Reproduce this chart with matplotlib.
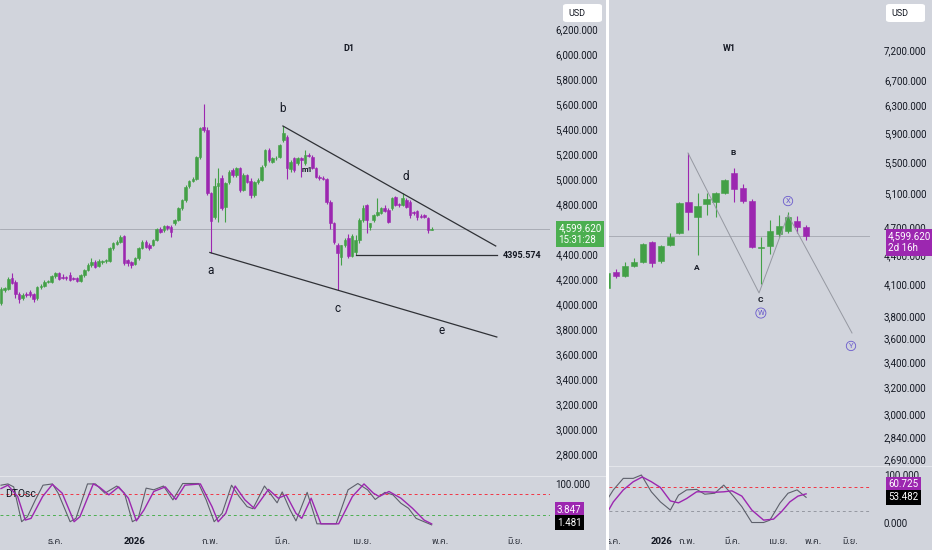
import numpy as np
import matplotlib
matplotlib.use("Agg")
import matplotlib.pyplot as plt
from matplotlib import font_manager
from matplotlib.ft2font import FT2Font
from matplotlib.patches import FancyBboxPatch, Rectangle
from matplotlib.ticker import NullLocator
from matplotlib.transforms import blended_transform_factory

plt.rcParams['font.family'] = ['Roboto', 'DejaVu Sans']

BG = '#d1d4dc'
UP = '#43a047'
DOWN = '#9c27b0'
INK = '#131722'
W, H = 932, 550

# ---------------- D1 (daily candles) ----------------
d1_open = [4005, 4112, 4120, 4205, 4180, 4080, 4045, 4080, 4095, 4080,
           4045, 4135, 4145, 4178, 4180, 4222, 4245, 4215, 4215, 4232,
           4205, 4208, 4188, 4230, 4270, 4312, 4338, 4305, 4335, 4342,
           4342, 4445, 4482, 4498, 4542, 4350, 4335, 4318, 4365, 4445,
           4500, 4475, 4470, 4512, 4598, 4590, 4622, 4618, 4645, 4672,
           4765, 4832, 4942, 4985, 5000, 5178, 5420, 5395, 4885, 4700,
           4945, 5005, 4775, 4975, 5070, 5035, 5085, 4915, 5030, 4985,
           4870, 4975, 4995, 5110, 5235, 5140, 5165, 5175, 5310, 5340,
           5080, 5165, 5125, 5165, 5125, 5195, 5180, 5085, 5015, 5010,
           5000, 4819, 4645, 4470, 4380, 4470, 4525, 4385, 4420, 4510,
           4672, 4792, 4620, 4672, 4712, 4730, 4772, 4752, 4765, 4853,
           4800, 4792, 4832, 4819, 4738, 4745, 4705, 4710, 4690, 4595]
d1_high = [4140, 4140, 4220, 4250, 4195, 4095, 4085, 4095, 4110, 4090,
           4145, 4160, 4190, 4195, 4230, 4260, 4255, 4240, 4225, 4258,
           4215, 4215, 4240, 4280, 4325, 4365, 4350, 4360, 4355, 4360,
           4455, 4495, 4510, 4550, 4550, 4360, 4345, 4375, 4455, 4510,
           4512, 4490, 4520, 4610, 4620, 4632, 4630, 4630, 4680, 4775,
           4840, 4950, 4995, 5015, 5185, 5420, 5600, 5420, 4900, 5010,
           5085, 5035, 4980, 5070, 5090, 5100, 5095, 5045, 5040, 5010,
           4985, 5010, 5110, 5240, 5250, 5175, 5185, 5280, 5424, 5350,
           5150, 5175, 5175, 5175, 5232, 5210, 5190, 5095, 5030, 5025,
           5010, 4830, 4660, 4490, 4475, 4525, 4560, 4560, 4555, 4685,
           4790, 4800, 4650, 4720, 4845, 4775, 4790, 4765, 4860, 4865,
           4810, 4885, 4850, 4830, 4745, 4755, 4720, 4722, 4700, 4615]
d1_low = [3995, 4100, 4110, 4160, 4045, 4005, 4030, 4060, 4060, 4020,
          4035, 4120, 4135, 4165, 4170, 4210, 4190, 4200, 4195, 4185,
          4190, 4175, 4180, 4220, 4262, 4300, 4290, 4295, 4320, 4330,
          4335, 4435, 4470, 4490, 4312, 4305, 4285, 4310, 4355, 4440,
          4450, 4430, 4465, 4505, 4570, 4580, 4595, 4540, 4635, 4665,
          4755, 4820, 4930, 4975, 4990, 5160, 5380, 4870, 4405, 4680,
          4660, 4750, 4655, 4960, 5020, 5020, 4900, 4905, 4970, 4850,
          4855, 4960, 4985, 5100, 5140, 5125, 5150, 5165, 5300, 5000,
          5060, 5060, 5110, 5020, 5115, 5175, 5080, 5010, 4995, 4990,
          4800, 4600, 4480, 4110, 4310, 4460, 4370, 4380, 4396, 4485,
          4660, 4565, 4590, 4660, 4705, 4720, 4740, 4650, 4755, 4785,
          4780, 4785, 4770, 4690, 4715, 4670, 4690, 4690, 4570, 4590]
d1_close = [4117, 4128, 4197, 4172, 4080, 4040, 4070, 4075, 4072, 4040,
            4135, 4148, 4180, 4188, 4222, 4250, 4200, 4208, 4205, 4195,
            4200, 4185, 4232, 4270, 4312, 4338, 4300, 4345, 4345, 4352,
            4445, 4485, 4500, 4538, 4328, 4330, 4315, 4365, 4445, 4498,
            4460, 4448, 4512, 4597, 4580, 4622, 4606, 4580, 4672, 4765,
            4832, 4938, 4985, 5000, 5178, 5405, 5395, 4885, 4665, 4945,
            4965, 4765, 4965, 5055, 5035, 5085, 4915, 5030, 4980, 4870,
            4975, 4995, 5100, 5230, 5150, 5165, 5172, 5270, 5365, 5085,
            5140, 5072, 5165, 5150, 5195, 5185, 5085, 5018, 5005, 5000,
            4819, 4645, 4498, 4405, 4470, 4512, 4385, 4545, 4510, 4672,
            4765, 4672, 4645, 4712, 4738, 4765, 4748, 4660, 4845, 4792,
            4790, 4845, 4779, 4712, 4725, 4698, 4700, 4695, 4592, 4599.62]
d1_price_ticks = [2800, 3000, 3200, 3400, 3600, 3800, 4000, 4200, 4400, 4800,
                  5000, 5200, 5400, 5600, 5800, 6000, 6200]
d1_month_pos = [14.9, 37.0, 57.7, 77.6, 99.7, 121.3, 142.0]

# wedge drawn on D1 (bar index, price)
d1_upper_x, d1_upper_y = [77.9, 136.7], [5424, 4464]
d1_lower_x, d1_lower_y = [57.7, 137.0], [4412, 3736]
d1_level_x, d1_level = [98.0, 137.0], 4395.574
d1_wave_labels = ['a', 'b', 'c', 'd', 'e']
d1_wave_x = [58.0, 77.9, 93.1, 111.9, 121.8]
d1_wave_y = [4272, 5560, 3968, 5016, 3784]

# D1 oscillator (fast = grey, slow = purple)
do_fast_x = [0, 1.9, 3.5, 5.7, 7.3, 9.5, 11.6, 14.2, 15.8, 19.1,
             20.7, 23.9, 26.1, 28.7, 32.0, 34.1, 36.3, 37.9, 40.1, 42.2,
             44.9, 47.5, 50.2, 54.6, 56.7, 58.9, 61.1, 63.7, 65.8, 68.0,
             69.6, 72.8, 75.0, 76.3, 77.7, 79.9, 81.5, 84.6, 87.3, 92.6,
             95.9, 98.6, 101.3, 103.4, 106.1, 108.3, 110.5, 112.6, 114.7, 116.9, 119]
do_fast_v = [96, 99, 92, 9, 21, 61, 96, 99, 77, 9,
             17, 99, 99, 77, 94, 77, 9, 17, 89, 85,
             94, 61, 100, 100, 61, 9, 29, 96, 69, 45,
             40, 94, 69, 54, 80, 37, 11, 79, 4, 4,
             85, 100, 85, 62, 79, 73, 53, 41, 17, 9, 1.481]
do_slow_x = [0, 1.9, 4.6, 6.7, 8.3, 11.5, 14.2, 16.9, 20.2, 21.8,
             25.5, 27.1, 29.8, 32.5, 35.2, 37.4, 39.5, 42.2, 45.4, 48.3,
             50.8, 55.1, 58.3, 60.0, 62.1, 64.7, 67.4, 70.1, 73.9, 76.6,
             78.8, 81.5, 83.1, 85.7, 88.4, 93.3, 97.1, 100.3, 102.9, 104.5,
             107.2, 110.5, 113.7, 116.9, 119]
do_slow_v = [88, 96, 69, 13, 17, 69, 98, 77, 9, 21,
             99, 92, 73, 92, 65, 11, 37, 81, 92, 62,
             96, 99, 45, 9, 29, 94, 61, 40, 86, 65,
             73, 29, 17, 65, 4, 4, 69, 99, 77, 69,
             81, 65, 41, 13, 3.847]

# ---------------- W1 (weekly candles) ----------------
w1_open = [4063, 4222, 4182, 4284, 4326, 4538, 4336, 4506, 4637, 4996, 4817, 4972,
           4996, 5105, 5357, 5168, 5010, 4470, 4495, 4628, 4660, 4770, 4700]
w1_high = [4225, 4250, 4326, 4370, 4530, 4550, 4505, 4637, 5000, 5621, 5105, 5105,
           5120, 5280, 5422, 5214, 5033, 4594, 4785, 4843, 4878, 4830, 4723]
w1_low = [4040, 4165, 4170, 4270, 4315, 4270, 4320, 4495, 4625, 4671, 4399, 4843,
          4820, 5090, 5000, 4990, 4470, 4100, 4410, 4594, 4640, 4635, 4560]
w1_close = [4212, 4182, 4284, 4326, 4517, 4315, 4495, 4594, 4984, 4878, 4950, 5033,
            5105, 5268, 5155, 5010, 4483, 4485, 4660, 4720, 4820, 4700, 4599.62]
w1_price_ticks = [7200, 6700, 6300, 5900, 5500, 5100, 4700, 4400, 4100, 3800,
                  3600, 3400, 3200, 3000, 2840, 2690]
w1_month_pos = [0.66, 5.97, 8.84, 13.9, 18.9, 22.8, 26.9]

w1_path_x = [8.95, 16.8, 20.0, 27.07]
w1_path_y = [5621, 4015, 4843, 3647]
w1_letters = ['A', 'B', 'C']
w1_letter_x = [9.94, 13.9, 16.9]
w1_letter_y = [4264, 5621, 3948]
w1_circles = ['W', 'X', 'Y']
w1_circle_x = [17.0, 20.0, 26.96]
w1_circle_y = [3826, 5008, 3535]

wo_fast_x = [0, 0.7, 1.8, 2.9, 3.8, 4.9, 5.9, 7.0, 7.9, 8.8, 9.9, 10.8,
             11.9, 12.9, 14.0, 14.9, 16.0, 17.3, 18.0, 19.1, 20.0, 21.0, 22]
wo_fast_v = [48, 69, 93, 93, 100, 65, 44, 27, 58, 69, 70, 60,
             62, 79, 55, 34, 1, 1, 6, 41, 62, 69, 53.482]
wo_slow_x = [0, 0.7, 1.8, 2.9, 3.9, 4.9, 5.9, 7.0, 7.9, 8.8, 9.9, 11.0,
             11.9, 12.9, 13.8, 14.9, 16.0, 17.3, 18.4, 19.3, 20.2, 21.1, 22]
wo_slow_v = [21, 44, 69, 86, 96, 86, 74, 46, 42, 51, 65, 65,
             64, 65, 67, 56, 27, 6, 8, 24, 44, 56, 60.725]

month_labels = ['ธ.ค.', '2026', 'ก.พ.', 'มี.ค.', 'เม.ย.', 'พ.ค.', 'มิ.ย.']
last_price = 4599.62


def find_thai_family():
    for f in font_manager.fontManager.ttflist:
        if 'Thai' in f.name:
            return f.name
    for f in font_manager.fontManager.ttflist:
        try:
            if 0x0E01 in FT2Font(f.fname).get_charmap():
                return f.name
        except Exception:
            pass
    return None


thai = find_thai_family()
date_family = [thai, 'Roboto', 'DejaVu Sans'] if thai else ['Roboto', 'DejaVu Sans']


def px_rect(x0, y0, x1, y1):
    return [x0 / W, 1 - y1 / H, (x1 - x0) / W, (y1 - y0) / H]


def style(ax):
    ax.set_facecolor(BG)
    for s in ax.spines.values():
        s.set_visible(False)
    ax.tick_params(axis='both', length=0, labelsize=7, labelcolor=INK)
    ax.yaxis.tick_right()
    ax.set_xticks([])


def draw_candles(ax, o, h, l, c, width):
    o, h, l, c = (np.asarray(a, dtype=float) for a in (o, h, l, c))
    x = np.arange(len(o))
    col = np.where(c >= o, UP, DOWN)
    ax.vlines(x, l, h, colors=col, lw=0.8, zorder=3)
    ax.bar(x, np.abs(c - o), bottom=np.minimum(o, c), width=width,
           color=col, edgecolor=col, linewidth=0.4, zorder=4)


def price_box(ax, text, value, color, dx, dy, size=7):
    tr = blended_transform_factory(ax.transAxes, ax.transData)
    ax.annotate(text, xy=(1, value), xycoords=tr, xytext=(dx, dy),
                textcoords='offset points', ha='left', va='center',
                color='white', fontsize=size, linespacing=1.2,
                annotation_clip=False, zorder=20,
                bbox=dict(boxstyle='square,pad=0.25', fc=color, ec='none'))


fig = plt.figure(figsize=(W / 100, H / 100), dpi=100, facecolor=BG)

ax_d = fig.add_axes(px_rect(0, 0, 550, 475))
ax_do = fig.add_axes(px_rect(0, 477, 550, 530))
ax_w = fig.add_axes(px_rect(609, 0, 870, 466))
ax_wo = fig.add_axes(px_rect(609, 467, 870, 530))
for a in (ax_d, ax_do, ax_w, ax_wo):
    style(a)

# ---- D1 main ----
draw_candles(ax_d, d1_open, d1_high, d1_low, d1_close, 0.7)
ax_d.set_xlim(-0.28, 151.7)
ax_d.set_ylim(2632, 6432)
ax_d.axhline(last_price, color='#a3a6af', lw=0.6, zorder=1)
ax_d.set_yticks(d1_price_ticks)
ax_d.set_yticklabels([f'{v:,.3f}' for v in d1_price_ticks])
ax_d.tick_params(axis='y', pad=4)
ax_d.plot(d1_upper_x, d1_upper_y, color='#2f3136', lw=0.9, zorder=5)
ax_d.plot(d1_lower_x, d1_lower_y, color='#2f3136', lw=0.9, zorder=5)
ax_d.plot(d1_level_x, [d1_level, d1_level], color='#2f3136', lw=0.9, zorder=5)
ax_d.text(143.9, 4384, f'{d1_level:.3f}', ha='center', va='center',
          fontsize=6.5, fontweight='bold', color=INK)
for lab, x, y in zip(d1_wave_labels, d1_wave_x, d1_wave_y):
    ax_d.text(x, y, lab, ha='center', va='center', fontsize=8.5, color=INK)
ax_d.text(84.5, 5080, 'm1', ha='center', va='center', fontsize=5.5,
          fontweight='bold', color=INK, zorder=6)
ax_d.text(0.635, 0.897, 'D1', transform=ax_d.transAxes, ha='center',
          va='center', fontsize=6.5, fontweight='bold', color=INK)
price_box(ax_d, f'{last_price:,.3f}\n15:31:28', last_price, '#4caf50', 6, -3.5)

# ---- D1 oscillator ----
ax_do.set_xlim(-0.28, 151.7)
ax_do.set_ylim(-10.7, 115.5)
ax_do.axhline(75, color='#f23645', lw=0.7, ls=(0, (3, 3)))
ax_do.axhline(25, color='#4caf50', lw=0.7, ls=(0, (3, 3)))
ax_do.plot(do_fast_x, do_fast_v, color='#5d606b', lw=0.8, zorder=3)
ax_do.plot(do_slow_x, do_slow_v, color='#9c27b0', lw=1.0, zorder=4)
ax_do.set_yticks([100])
ax_do.set_yticklabels(['100.000'])
ax_do.tick_params(axis='y', pad=4)
ax_do.set_xticks(d1_month_pos)
ax_do.set_xticklabels(month_labels, family=date_family)
ax_do.tick_params(axis='x', pad=5, labelsize=6.5)
ax_do.get_xticklabels()[1].set_fontweight('bold')
ax_do.text(0.009, 0.68, 'DTOsc', transform=ax_do.transAxes, ha='left',
           va='center', fontsize=7.5, color=INK)
price_box(ax_do, '3.847', 3.847, '#9c27b0', 5, 10.2)
price_box(ax_do, '1.481', 1.481, '#000000', 5, 1.5)

# ---- W1 main ----
draw_candles(ax_w, w1_open, w1_high, w1_low, w1_close, 0.7)
ax_w.set_yscale('log')
ax_w.set_xlim(0.22, 29.06)
ax_w.set_ylim(2649, 8119)
ax_w.yaxis.set_minor_locator(NullLocator())
ax_w.set_yticks(w1_price_ticks)
ax_w.set_yticklabels([f'{v:,.3f}' for v in w1_price_ticks])
ax_w.tick_params(axis='y', pad=10, which='both', length=0)
ax_w.axhline(last_price, color='#a3a6af', lw=0.6, zorder=1)
ax_w.plot(w1_path_x, w1_path_y, color='#9598a1', lw=0.7, zorder=5)
for lab, x, y in zip(w1_letters, w1_letter_x, w1_letter_y):
    ax_w.text(x, y, lab, ha='center', va='center', fontsize=6,
              fontweight='bold', color=INK)
for lab, x, y in zip(w1_circles, w1_circle_x, w1_circle_y):
    ax_w.text(x, y, lab, ha='center', va='center', fontsize=5.5, color='#6a5acd',
              bbox=dict(boxstyle='circle,pad=0.22', fc='none', ec='#6a5acd', lw=0.6))
ax_w.text(0.46, 0.895, 'W1', transform=ax_w.transAxes, ha='center',
          va='center', fontsize=6.5, fontweight='bold', color=INK)
price_box(ax_w, f'{last_price:,.3f}\n2d 16h', last_price, '#9c27b0', 13, -4.3)

# ---- W1 oscillator ----
ax_wo.set_xlim(0.22, 29.06)
ax_wo.set_ylim(-14.6, 116.7)
ax_wo.axhline(75, color='#f23645', lw=0.7, ls=(0, (3, 3)))
ax_wo.axhline(25, color='#9598a1', lw=0.7, ls=(0, (3, 3)))
ax_wo.plot(wo_fast_x, wo_fast_v, color='#5d606b', lw=0.8, zorder=3)
ax_wo.plot(wo_slow_x, wo_slow_v, color='#9c27b0', lw=1.0, zorder=4)
ax_wo.set_yticks([0, 100])
ax_wo.set_yticklabels(['0.000', '100.000'])
ax_wo.tick_params(axis='y', pad=10)
ax_wo.set_xticks(w1_month_pos)
ax_wo.set_xticklabels(month_labels, family=date_family)
ax_wo.tick_params(axis='x', pad=5, labelsize=6.5)
ax_wo.get_xticklabels()[1].set_fontweight('bold')
price_box(ax_wo, '60.725', 60.725, '#9c27b0', 13, 6.8)
price_box(ax_wo, '53.482', 53.482, '#000000', 13, 0)

# pane separators and currency boxes
fig.add_artist(Rectangle((606 / W, 0), 2.5 / W, 1, transform=fig.transFigure,
                         fc='white', ec='none', zorder=30))
fig.add_artist(Rectangle((0, 1 - 477 / H), 606 / W, 1 / H, transform=fig.transFigure,
                         fc='#e3e5ea', ec='none', zorder=30))
fig.add_artist(Rectangle((609 / W, 1 - 467 / H), 323 / W, 1 / H, transform=fig.transFigure,
                         fc='#e3e5ea', ec='none', zorder=30))
for x0 in (563, 886):
    fig.add_artist(FancyBboxPatch((x0 / W, 1 - 22 / H), 39 / W, 18 / H,
                                  boxstyle='round,pad=0,rounding_size=0.004',
                                  transform=fig.transFigure, fc='white', ec='none', zorder=30))
    fig.text((x0 + 5) / W, 1 - 13 / H, 'USD', ha='left', va='center',
             fontsize=6.5, color=INK, zorder=31)

fig.savefig('out.png', dpi=100, facecolor=BG)
